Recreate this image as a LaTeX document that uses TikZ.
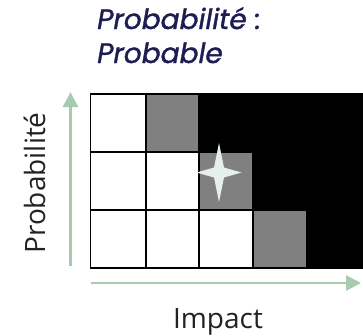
\documentclass[tikz,border=0pt]{standalone}
\usepackage{fontspec}
\setmainfont{Open Sans}
\newfontfamily\titlefont{Poppins}[FakeBold=1.2]
\usetikzlibrary{arrows.meta}
\definecolor{axisgreen}{HTML}{A8CBB0}
\definecolor{titleblue}{HTML}{1E1C52}
\definecolor{cellgray}{HTML}{808080}
\definecolor{starcol}{HTML}{E6EFE9}
\definecolor{labelcol}{HTML}{222222}
\tikzset{
  cell/.style={draw=black, line width=1.6pt},
  axisarrow/.style={draw=axisgreen, line width=2.6pt, -{Triangle[width=15pt,length=15pt]}},
  axislabel/.style={font=\fontsize{28}{32}\selectfont, text=labelcol, inner sep=0pt},
  titletext/.style={font=\titlefont\itshape\fontsize{28}{32}\selectfont, text=titleblue, inner sep=0pt, anchor=base west}
}
\begin{document}
\begin{tikzpicture}[x=1pt,y=-1pt]
\useasboundingbox (0,0) rectangle (363,335);
% title
\node[titletext] (t1) at (97,29) {Probabilité :};
\node[titletext] (t2) at (97,63) {Probable};
% grid cells
\begin{scope}
\clip (0,0) rectangle (363,335);
\fill[black] (199,94) rectangle (370,268);
\filldraw[cell, fill=white]    (90.5,94) rectangle (146,152);
\filldraw[cell, fill=cellgray] (146,94) rectangle (199,152);
\filldraw[cell, fill=black]    (199,94) rectangle (253,152);
\filldraw[cell, fill=black]    (253,94) rectangle (306.5,152);
\filldraw[cell, fill=black]    (306.5,94) rectangle (370,152);
\filldraw[cell, fill=white]    (90.5,152) rectangle (146,210);
\filldraw[cell, fill=white]    (146,152) rectangle (199,210);
\filldraw[cell, fill=cellgray] (199,152) rectangle (253,210);
\filldraw[cell, fill=black]    (253,152) rectangle (306.5,210);
\filldraw[cell, fill=black]    (306.5,152) rectangle (370,210);
\filldraw[cell, fill=white]    (90.5,210) rectangle (146,268);
\filldraw[cell, fill=white]    (146,210) rectangle (199,268);
\filldraw[cell, fill=white]    (199,210) rectangle (253,268);
\filldraw[cell, fill=cellgray] (253,210) rectangle (306.5,268);
\filldraw[cell, fill=black]    (306.5,210) rectangle (370,268);
\end{scope}
% star
\fill[starcol] (219,143) -- (224,167.5) -- (241.5,172.5) -- (224,177.5) -- (219,202)
  -- (214,177.5) -- (196.5,172.5) -- (214,167.5) -- cycle;
% axes
\coordinate (ybot) at (70.5,266);
\coordinate (ytop) at (70.5,92);
\coordinate (xl) at (91,283);
\coordinate (xr) at (361,283);
\draw[axisarrow] (ybot) -- (ytop);
\draw[axisarrow] (xl) -- (xr);
% axis labels
\node[axislabel, rotate=90, anchor=base] (ylab) at (45,183) {Probabilité};
\node[axislabel, anchor=base] (xlab) at (218,328) {Impact};
\end{tikzpicture}
\end{document}
